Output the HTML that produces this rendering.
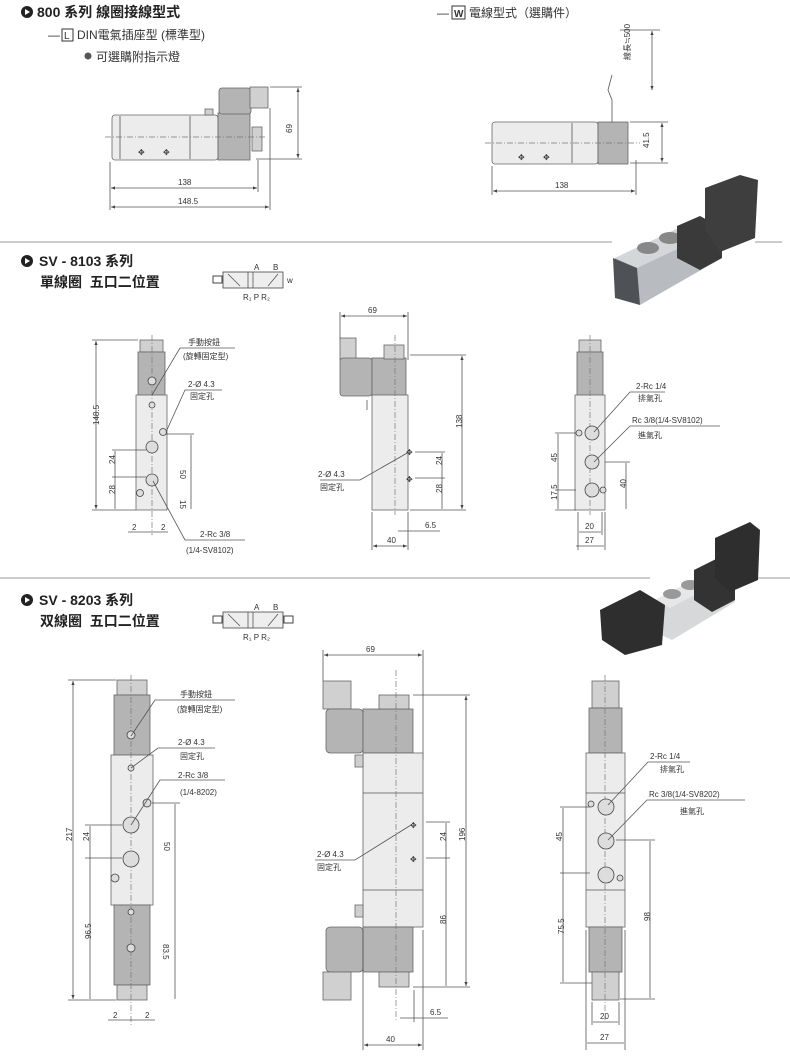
<!DOCTYPE html>
<html><head><meta charset="utf-8"><style>
html,body{margin:0;padding:0;background:#fff;}
svg{display:block;font-family:"Liberation Sans","Noto Sans CJK TC",sans-serif;}
.h{font-weight:bold;font-size:14px;fill:#222}
.s{font-size:12px;fill:#333}
.d{font-size:8px;fill:#333}
.ln{stroke:#555;stroke-width:0.8;fill:none}
.cl{stroke:#777;stroke-width:0.7;stroke-dasharray:6 2 1 2;fill:none}
.lb{fill:#ececec;stroke:#666;stroke-width:0.8}
.dk{fill:#b4b4b4;stroke:#666;stroke-width:0.8}
.md{fill:#d0d0d0;stroke:#666;stroke-width:0.8}
.hole{fill:#ddd;stroke:#444;stroke-width:0.8}
</style></head><body>
<svg width="790" height="1064" viewBox="0 0 790 1064">
<defs>
<marker id="a" markerWidth="6" markerHeight="6" refX="5" refY="3" orient="auto"><path d="M0,1 L5,3 L0,5z" fill="#444"/></marker>
<marker id="b" markerWidth="6" markerHeight="6" refX="1" refY="3" orient="auto"><path d="M6,1 L1,3 L6,5z" fill="#444"/></marker>
</defs>

<!-- Section 1 header -->
<circle cx="27" cy="12" r="6" fill="#222"/><path d="M25,9 L30,12 L25,15z" fill="#fff"/>
<text x="37" y="17" class="h">800 系列 線圈接線型式</text>
<text x="48" y="39" class="s">— </text><rect x="62" y="29" width="11" height="12" fill="none" stroke="#333"/><text x="64" y="39" class="d" style="font-size:10px">L</text>
<text x="77" y="39" class="s">DIN電氣插座型 (標準型)</text>
<circle cx="88" cy="56" r="3.5" fill="#555"/><text x="96" y="61" class="s">可選購附指示燈</text>
<text x="437" y="17" class="s">— </text><rect x="452" y="6" width="13" height="13" fill="none" stroke="#333"/><text x="454" y="17" class="d" style="font-size:10px;font-weight:bold">W</text>
<text x="469" y="17" class="s">電線型式（選購件）</text>

<!-- top-left drawing -->
<rect x="112" y="115" width="106" height="45" class="lb" rx="3"/>
<line x1="120" y1="116" x2="120" y2="159" class="ln"/><line x1="190" y1="116" x2="190" y2="159" class="ln"/>
<rect x="218" y="113" width="32" height="47" class="dk"/>
<rect x="219" y="88" width="32" height="26" class="dk" rx="3"/>
<rect x="250" y="87" width="18" height="21" class="md"/>
<rect x="252" y="127" width="10" height="24" class="md"/>
<rect x="205" y="109" width="8" height="6" class="md"/>
<line x1="105" y1="137" x2="266" y2="137" class="cl"/>
<text x="138" y="155" class="d">✥</text><text x="163" y="155" class="d">✥</text>
<line x1="270" y1="87" x2="302" y2="87" class="ln"/><line x1="256" y1="159" x2="302" y2="159" class="ln"/>
<line x1="298" y1="88" x2="298" y2="158" class="ln" marker-start="url(#b)" marker-end="url(#a)"/>
<text x="290" y="128" class="d" transform="rotate(90 290 124)">69</text>
<line x1="110" y1="162" x2="110" y2="210" class="ln"/><line x1="258" y1="160" x2="258" y2="192" class="ln"/><line x1="270" y1="108" x2="270" y2="210" class="ln"/>
<line x1="111" y1="188" x2="257" y2="188" class="ln" marker-start="url(#b)" marker-end="url(#a)"/><text x="178" y="185" class="d">138</text>
<line x1="111" y1="207" x2="269" y2="207" class="ln" marker-start="url(#b)" marker-end="url(#a)"/><text x="178" y="204" class="d">148.5</text>

<!-- top-right drawing -->
<rect x="492" y="122" width="106" height="42" class="lb" rx="3"/>
<line x1="572" y1="123" x2="572" y2="163" class="ln"/>
<rect x="598" y="122" width="30" height="42" class="dk"/>
<path d="M612,122 L612,100 L608,90 L612,75" class="ln"/>
<line x1="485" y1="143" x2="640" y2="143" class="cl"/>
<text x="518" y="160" class="d">✥</text><text x="543" y="160" class="d">✥</text>
<line x1="620" y1="30" x2="660" y2="30" class="ln"/>
<line x1="652" y1="31" x2="652" y2="90" class="ln" marker-start="url(#b)" marker-end="url(#a)"/>
<text x="645" y="45" class="d" transform="rotate(-90 645 60)">線長≒500</text>
<line x1="630" y1="122" x2="668" y2="122" class="ln"/><line x1="630" y1="163" x2="668" y2="163" class="ln"/>
<line x1="662" y1="123" x2="662" y2="162" class="ln" marker-start="url(#b)" marker-end="url(#a)"/>
<text x="650" y="135" class="d" transform="rotate(-90 656 142)">41.5</text>
<line x1="492" y1="166" x2="492" y2="195" class="ln"/><line x1="636" y1="160" x2="636" y2="195" class="ln"/>
<line x1="493" y1="191" x2="635" y2="191" class="ln" marker-start="url(#b)" marker-end="url(#a)"/><text x="555" y="188" class="d">138</text>

<line x1="0" y1="242" x2="612" y2="242" stroke="#999" stroke-width="1"/><line x1="755" y1="242" x2="782" y2="242" stroke="#999"/>

<!-- photo 1 -->
<g>
<path d="M615,258 L700,218 L722,228 L722,258 L640,305 L615,296z" fill="#b8bcc0"/>
<path d="M615,258 L700,218 L722,228 L637,268z" fill="#d4d7da"/>
<ellipse cx="648" cy="248" rx="11" ry="6" fill="#888"/><ellipse cx="670" cy="238" rx="11" ry="6" fill="#888"/>
<path d="M677,226 L700,216 L722,228 L722,258 L700,270 L677,258z" fill="#3a3a3a"/>
<path d="M705,188 L740,175 L758,180 L755,238 L720,252 L705,230z" fill="#3e3e3e"/>
<path d="M613,258 L637,268 L640,305 L615,298z" fill="#4e5256"/>
</g>

<!-- Section 2 header -->
<circle cx="27" cy="261" r="6" fill="#222"/><path d="M25,258 L30,261 L25,264z" fill="#fff"/>
<text x="39" y="266" class="h">SV - 8103 系列</text>
<text x="40" y="287" class="h">單線圈&#160;&#160;五口二位置</text>
<rect x="223" y="272" width="60" height="16" fill="#eee" stroke="#444" stroke-width="0.8"/>
<line x1="248" y1="272" x2="248" y2="288" class="ln"/><line x1="253" y1="272" x2="253" y2="288" class="ln"/>
<line x1="228" y1="274" x2="240" y2="286" class="ln"/><line x1="268" y1="286" x2="278" y2="274" class="ln"/>
<rect x="213" y="276" width="9" height="7" fill="none" stroke="#444"/>
<text x="287" y="283" class="d">w</text>
<text x="254" y="270" class="d">A</text><text x="273" y="270" class="d">B</text>
<text x="243" y="300" class="d">R₁ P R₂</text>

<!-- SV-8103 left -->
<rect x="140" y="340" width="23" height="12" class="md"/>
<rect x="138" y="352" width="27" height="44" class="dk"/>
<rect x="136" y="395" width="31" height="115" class="lb"/>
<line x1="152" y1="335" x2="152" y2="535" class="cl"/>
<circle cx="152" cy="381" r="4" class="hole"/><circle cx="152" cy="405" r="3" class="hole"/>
<circle cx="152" cy="447" r="6" class="hole"/><circle cx="152" cy="480" r="6" class="hole"/>
<circle cx="163" cy="432" r="3.5" class="hole"/><circle cx="140" cy="493" r="3.5" class="hole"/>
<line x1="92" y1="340" x2="138" y2="340" class="ln"/><line x1="92" y1="510" x2="136" y2="510" class="ln"/>
<line x1="96" y1="341" x2="96" y2="509" class="ln" marker-start="url(#b)" marker-end="url(#a)"/>
<text x="92" y="432" class="d" transform="rotate(-90 92 425)">148.5</text>
<line x1="112" y1="450" x2="146" y2="450" class="ln"/><line x1="112" y1="477" x2="146" y2="477" class="ln"/>
<line x1="115" y1="451" x2="115" y2="509" class="ln"/>
<text x="111" y="468" class="d" transform="rotate(-90 111 464)">24</text><text x="111" y="498" class="d" transform="rotate(-90 111 494)">28</text>
<line x1="166" y1="434" x2="194" y2="434" class="ln"/><line x1="191" y1="435" x2="191" y2="509" class="ln"/>
<text x="188" y="470" class="d" transform="rotate(90 184 466)">50</text><text x="188" y="500" class="d" transform="rotate(90 184 496)">15</text>
<text x="132" y="530" class="d">2</text><text x="161" y="530" class="d">2</text>
<line x1="128" y1="532" x2="168" y2="532" class="ln"/>
<path d="M152,395 L180,348 L235,348" class="ln"/><text x="188" y="345" class="d">手動按鈕</text><text x="183" y="359" class="d">(旋轉固定型)</text>
<path d="M166,432 L185,390 L222,390" class="ln"/><text x="188" y="387" class="d">2-Ø 4.3</text><text x="190" y="399" class="d">固定孔</text>
<path d="M153,481 L185,540 L245,540" class="ln"/><text x="200" y="537" class="d">2-Rc 3/8</text><text x="186" y="553" class="d">(1/4-SV8102)</text>

<!-- SV-8103 middle -->
<line x1="340" y1="312" x2="340" y2="340" class="ln"/><line x1="408" y1="312" x2="408" y2="360" class="ln"/>
<line x1="341" y1="316" x2="407" y2="316" class="ln" marker-start="url(#b)" marker-end="url(#a)"/><text x="368" y="313" class="d">69</text>
<rect x="340" y="338" width="16" height="22" class="md"/>
<rect x="340" y="358" width="32" height="38" class="dk" rx="3"/>
<rect x="372" y="358" width="34" height="38" class="dk"/>
<rect x="384" y="345" width="20" height="14" class="md"/>
<rect x="372" y="395" width="36" height="115" class="lb"/>
<line x1="367" y1="400" x2="367" y2="410" class="ln"/>
<line x1="395" y1="335" x2="395" y2="515" class="cl"/>
<text x="406" y="455" class="d">✥</text><text x="406" y="482" class="d">✥</text>
<line x1="410" y1="355" x2="466" y2="355" class="ln"/><line x1="410" y1="510" x2="466" y2="510" class="ln"/>
<line x1="462" y1="356" x2="462" y2="509" class="ln" marker-start="url(#b)" marker-end="url(#a)"/>
<text x="458" y="432" class="d" transform="rotate(-90 458 428)">138</text>
<line x1="415" y1="452" x2="445" y2="452" class="ln"/><line x1="415" y1="478" x2="445" y2="478" class="ln"/>
<line x1="442" y1="453" x2="442" y2="509" class="ln"/>
<text x="438" y="469" class="d" transform="rotate(-90 438 465)">24</text><text x="438" y="497" class="d" transform="rotate(-90 438 493)">28</text>
<path d="M409,452 L360,480 L320,480" class="ln"/><text x="318" y="477" class="d">2-Ø 4.3</text><text x="320" y="490" class="d">固定孔</text>
<line x1="372" y1="512" x2="372" y2="550" class="ln"/><line x1="408" y1="512" x2="408" y2="550" class="ln"/>
<line x1="373" y1="546" x2="407" y2="546" class="ln" marker-start="url(#b)" marker-end="url(#a)"/><text x="387" y="543" class="d">40</text>
<line x1="398" y1="531" x2="440" y2="531" class="ln"/><text x="425" y="528" class="d">6.5</text>

<!-- SV-8103 right -->
<rect x="579" y="340" width="22" height="12" class="md"/>
<rect x="577" y="352" width="26" height="44" class="dk"/>
<rect x="575" y="395" width="30" height="115" class="lb"/>
<line x1="590" y1="335" x2="590" y2="515" class="cl"/>
<circle cx="592" cy="433" r="7" class="hole"/><circle cx="592" cy="462" r="7" class="hole"/><circle cx="592" cy="490" r="7" class="hole"/>
<circle cx="579" cy="433" r="3" class="hole"/><circle cx="603" cy="490" r="3" class="hole"/>
<path d="M594,432 L630,392 L665,392" class="ln"/><text x="636" y="389" class="d">2-Rc 1/4</text><text x="638" y="401" class="d">排氣孔</text>
<path d="M594,462 L630,426 L720,426" class="ln"/><text x="632" y="423" class="d">Rc 3/8(1/4-SV8102)</text><text x="638" y="438" class="d">進氣孔</text>
<line x1="555" y1="433" x2="576" y2="433" class="ln"/><line x1="555" y1="490" x2="576" y2="490" class="ln"/><line x1="555" y1="510" x2="576" y2="510" class="ln"/>
<line x1="558" y1="434" x2="558" y2="509" class="ln"/>
<text x="553" y="466" class="d" transform="rotate(-90 553 462)">45</text><text x="553" y="504" class="d" transform="rotate(-90 553 500)">17.5</text>
<line x1="605" y1="462" x2="630" y2="462" class="ln"/><line x1="626" y1="463" x2="626" y2="509" class="ln"/>
<text x="622" y="492" class="d" transform="rotate(-90 622 488)">40</text>
<line x1="578" y1="512" x2="578" y2="550" class="ln"/><line x1="602" y1="512" x2="602" y2="535" class="ln"/><line x1="605" y1="512" x2="605" y2="550" class="ln"/>
<line x1="579" y1="532" x2="601" y2="532" class="ln"/><text x="585" y="529" class="d">20</text>
<line x1="576" y1="546" x2="604" y2="546" class="ln"/><text x="585" y="543" class="d">27</text>

<line x1="0" y1="578" x2="650" y2="578" stroke="#999" stroke-width="1"/><line x1="758" y1="578" x2="790" y2="578" stroke="#999"/>

<!-- photo 2 -->
<g>
<path d="M655,600 L720,566 L735,574 L735,602 L672,640 L655,632z" fill="#d6d8da"/>
<path d="M655,600 L720,566 L735,574 L670,608z" fill="#e6e7e8"/>
<ellipse cx="672" cy="594" rx="9" ry="5" fill="#999"/><ellipse cx="690" cy="585" rx="9" ry="5" fill="#999"/>
<path d="M694,570 L718,558 L735,570 L735,600 L712,612 L694,600z" fill="#333"/>
<path d="M715,538 L750,522 L760,530 L758,580 L730,592 L715,578z" fill="#2e2e2e"/>
<path d="M600,610 L640,590 L665,605 L662,645 L625,655 L602,640z" fill="#2e2e2e"/>
</g>

<!-- Section 3 header -->
<circle cx="27" cy="600" r="6" fill="#222"/><path d="M25,597 L30,600 L25,603z" fill="#fff"/>
<text x="39" y="605" class="h">SV - 8203 系列</text>
<text x="40" y="626" class="h">双線圈&#160;&#160;五口二位置</text>
<rect x="223" y="612" width="60" height="16" fill="#eee" stroke="#444" stroke-width="0.8"/>
<line x1="248" y1="612" x2="248" y2="628" class="ln"/><line x1="253" y1="612" x2="253" y2="628" class="ln"/>
<line x1="228" y1="614" x2="240" y2="626" class="ln"/><line x1="268" y1="626" x2="278" y2="614" class="ln"/>
<rect x="213" y="616" width="9" height="7" fill="none" stroke="#444"/><rect x="284" y="616" width="9" height="7" fill="none" stroke="#444"/>
<text x="254" y="610" class="d">A</text><text x="273" y="610" class="d">B</text>
<text x="243" y="640" class="d">R₁ P R₂</text>

<!-- SV-8203 left -->
<rect x="117" y="680" width="30" height="15" class="md"/>
<rect x="114" y="695" width="36" height="60" class="dk"/>
<rect x="111" y="755" width="42" height="150" class="lb"/>
<rect x="114" y="905" width="36" height="80" class="dk"/>
<rect x="117" y="985" width="30" height="15" class="md"/>
<line x1="131" y1="675" x2="131" y2="1025" class="cl"/>
<circle cx="131" cy="735" r="4" class="hole"/><circle cx="131" cy="768" r="3" class="hole"/>
<circle cx="131" cy="825" r="8" class="hole"/><circle cx="131" cy="859" r="8" class="hole"/>
<circle cx="147" cy="803" r="4" class="hole"/><circle cx="115" cy="878" r="4" class="hole"/>
<circle cx="131" cy="912" r="3" class="hole"/><circle cx="131" cy="948" r="4" class="hole"/>
<line x1="68" y1="680" x2="116" y2="680" class="ln"/><line x1="68" y1="1000" x2="116" y2="1000" class="ln"/>
<line x1="73" y1="681" x2="73" y2="999" class="ln" marker-start="url(#b)" marker-end="url(#a)"/>
<text x="68" y="845" class="d" transform="rotate(-90 68 841)">217</text>
<line x1="85" y1="825" x2="122" y2="825" class="ln"/><line x1="85" y1="858" x2="122" y2="858" class="ln"/>
<line x1="90" y1="826" x2="90" y2="999" class="ln"/>
<text x="85" y="845" class="d" transform="rotate(-90 85 841)">24</text><text x="85" y="945" class="d" transform="rotate(-90 85 939)">96.5</text>
<line x1="152" y1="803" x2="180" y2="803" class="ln"/><line x1="175" y1="804" x2="175" y2="999" class="ln"/>
<text x="172" y="842" class="d" transform="rotate(90 168 838)">50</text><text x="172" y="945" class="d" transform="rotate(90 168 940)">83.5</text>
<line x1="108" y1="1020" x2="155" y2="1020" class="ln"/><text x="113" y="1018" class="d">2</text><text x="145" y="1018" class="d">2</text>
<path d="M131,736 L155,700 L235,700" class="ln"/><text x="180" y="697" class="d">手動按鈕</text><text x="177" y="712" class="d">(旋轉固定型)</text>
<path d="M131,768 L158,748 L215,748" class="ln"/><text x="178" y="745" class="d">2-Ø 4.3</text><text x="180" y="759" class="d">固定孔</text>
<path d="M131,825 L160,780 L225,780" class="ln"/><text x="178" y="778" class="d">2-Rc 3/8</text><text x="180" y="795" class="d">(1/4-8202)</text>

<!-- SV-8203 middle -->
<line x1="323" y1="650" x2="323" y2="681" class="ln"/><line x1="423" y1="650" x2="423" y2="760" class="ln"/>
<line x1="324" y1="655" x2="422" y2="655" class="ln" marker-start="url(#b)" marker-end="url(#a)"/><text x="366" y="652" class="d">69</text>
<rect x="323" y="681" width="28" height="28" class="md"/>
<rect x="326" y="709" width="37" height="44" class="dk" rx="4"/>
<rect x="363" y="709" width="50" height="44" class="dk"/>
<rect x="379" y="695" width="30" height="14" class="md"/>
<rect x="363" y="753" width="60" height="174" class="lb"/>
<rect x="355" y="755" width="8" height="12" class="md"/><rect x="355" y="905" width="8" height="12" class="md"/>
<line x1="363" y1="793" x2="423" y2="793" class="ln"/><line x1="363" y1="890" x2="423" y2="890" class="ln"/>
<rect x="326" y="927" width="37" height="45" class="dk" rx="4"/>
<rect x="363" y="927" width="50" height="45" class="dk"/>
<rect x="379" y="972" width="30" height="15" class="md"/>
<rect x="323" y="972" width="28" height="28" class="md"/>
<line x1="396" y1="670" x2="396" y2="1020" class="cl"/>
<text x="410" y="828" class="d">✥</text><text x="410" y="862" class="d">✥</text>
<path d="M411,825 L355,860 L315,860" class="ln"/><text x="317" y="857" class="d">2-Ø 4.3</text><text x="317" y="870" class="d">固定孔</text>
<line x1="413" y1="695" x2="470" y2="695" class="ln"/><line x1="413" y1="987" x2="470" y2="987" class="ln"/>
<line x1="466" y1="696" x2="466" y2="986" class="ln" marker-start="url(#b)" marker-end="url(#a)"/>
<text x="461" y="845" class="d" transform="rotate(-90 461 841)">196</text>
<line x1="426" y1="822" x2="450" y2="822" class="ln"/><line x1="426" y1="858" x2="450" y2="858" class="ln"/>
<line x1="446" y1="823" x2="446" y2="986" class="ln"/>
<text x="442" y="845" class="d" transform="rotate(-90 442 841)">24</text><text x="442" y="928" class="d" transform="rotate(-90 442 924)">86</text>
<line x1="363" y1="930" x2="363" y2="1050" class="ln"/><line x1="423" y1="930" x2="423" y2="1050" class="ln"/><line x1="414" y1="990" x2="414" y2="1022" class="ln"/>
<line x1="400" y1="1018" x2="448" y2="1018" class="ln"/><text x="430" y="1015" class="d">6.5</text>
<line x1="364" y1="1045" x2="422" y2="1045" class="ln" marker-start="url(#b)" marker-end="url(#a)"/><text x="386" y="1042" class="d">40</text>

<!-- SV-8203 right -->
<rect x="592" y="681" width="27" height="27" class="md"/>
<rect x="589" y="708" width="33" height="45" class="dk"/>
<rect x="586" y="753" width="39" height="174" class="lb"/>
<line x1="586" y1="793" x2="625" y2="793" class="ln"/><line x1="586" y1="890" x2="625" y2="890" class="ln"/>
<rect x="589" y="927" width="33" height="45" class="dk"/>
<rect x="592" y="972" width="27" height="28" class="md"/>
<line x1="605" y1="675" x2="605" y2="1020" class="cl"/>
<circle cx="606" cy="807" r="8" class="hole"/><circle cx="606" cy="841" r="8" class="hole"/><circle cx="606" cy="875" r="8" class="hole"/>
<circle cx="591" cy="804" r="3" class="hole"/><circle cx="620" cy="878" r="3" class="hole"/>
<path d="M608,805 L648,762 L690,762" class="ln"/><text x="650" y="759" class="d">2-Rc 1/4</text><text x="660" y="772" class="d">排氣孔</text>
<path d="M608,840 L647,800 L745,800" class="ln"/><text x="649" y="797" class="d">Rc 3/8(1/4-SV8202)</text><text x="680" y="814" class="d">進氣孔</text>
<line x1="560" y1="807" x2="590" y2="807" class="ln"/><line x1="560" y1="873" x2="590" y2="873" class="ln"/><line x1="560" y1="983" x2="592" y2="983" class="ln"/>
<line x1="563" y1="808" x2="563" y2="982" class="ln"/>
<text x="558" y="845" class="d" transform="rotate(-90 558 841)">45</text><text x="558" y="940" class="d" transform="rotate(-90 558 934)">75.5</text>
<line x1="616" y1="840" x2="655" y2="840" class="ln"/><line x1="620" y1="999" x2="655" y2="999" class="ln"/>
<line x1="650" y1="841" x2="650" y2="998" class="ln"/>
<text x="646" y="925" class="d" transform="rotate(-90 646 921)">98</text>
<line x1="586" y1="930" x2="586" y2="1050" class="ln"/><line x1="625" y1="930" x2="625" y2="1050" class="ln"/><line x1="592" y1="1002" x2="592" y2="1025" class="ln"/><line x1="619" y1="1002" x2="619" y2="1025" class="ln"/>
<line x1="593" y1="1022" x2="618" y2="1022" class="ln"/><text x="600" y="1019" class="d">20</text>
<line x1="587" y1="1043" x2="624" y2="1043" class="ln"/><text x="600" y="1040" class="d">27</text>
</svg>
</body></html>
